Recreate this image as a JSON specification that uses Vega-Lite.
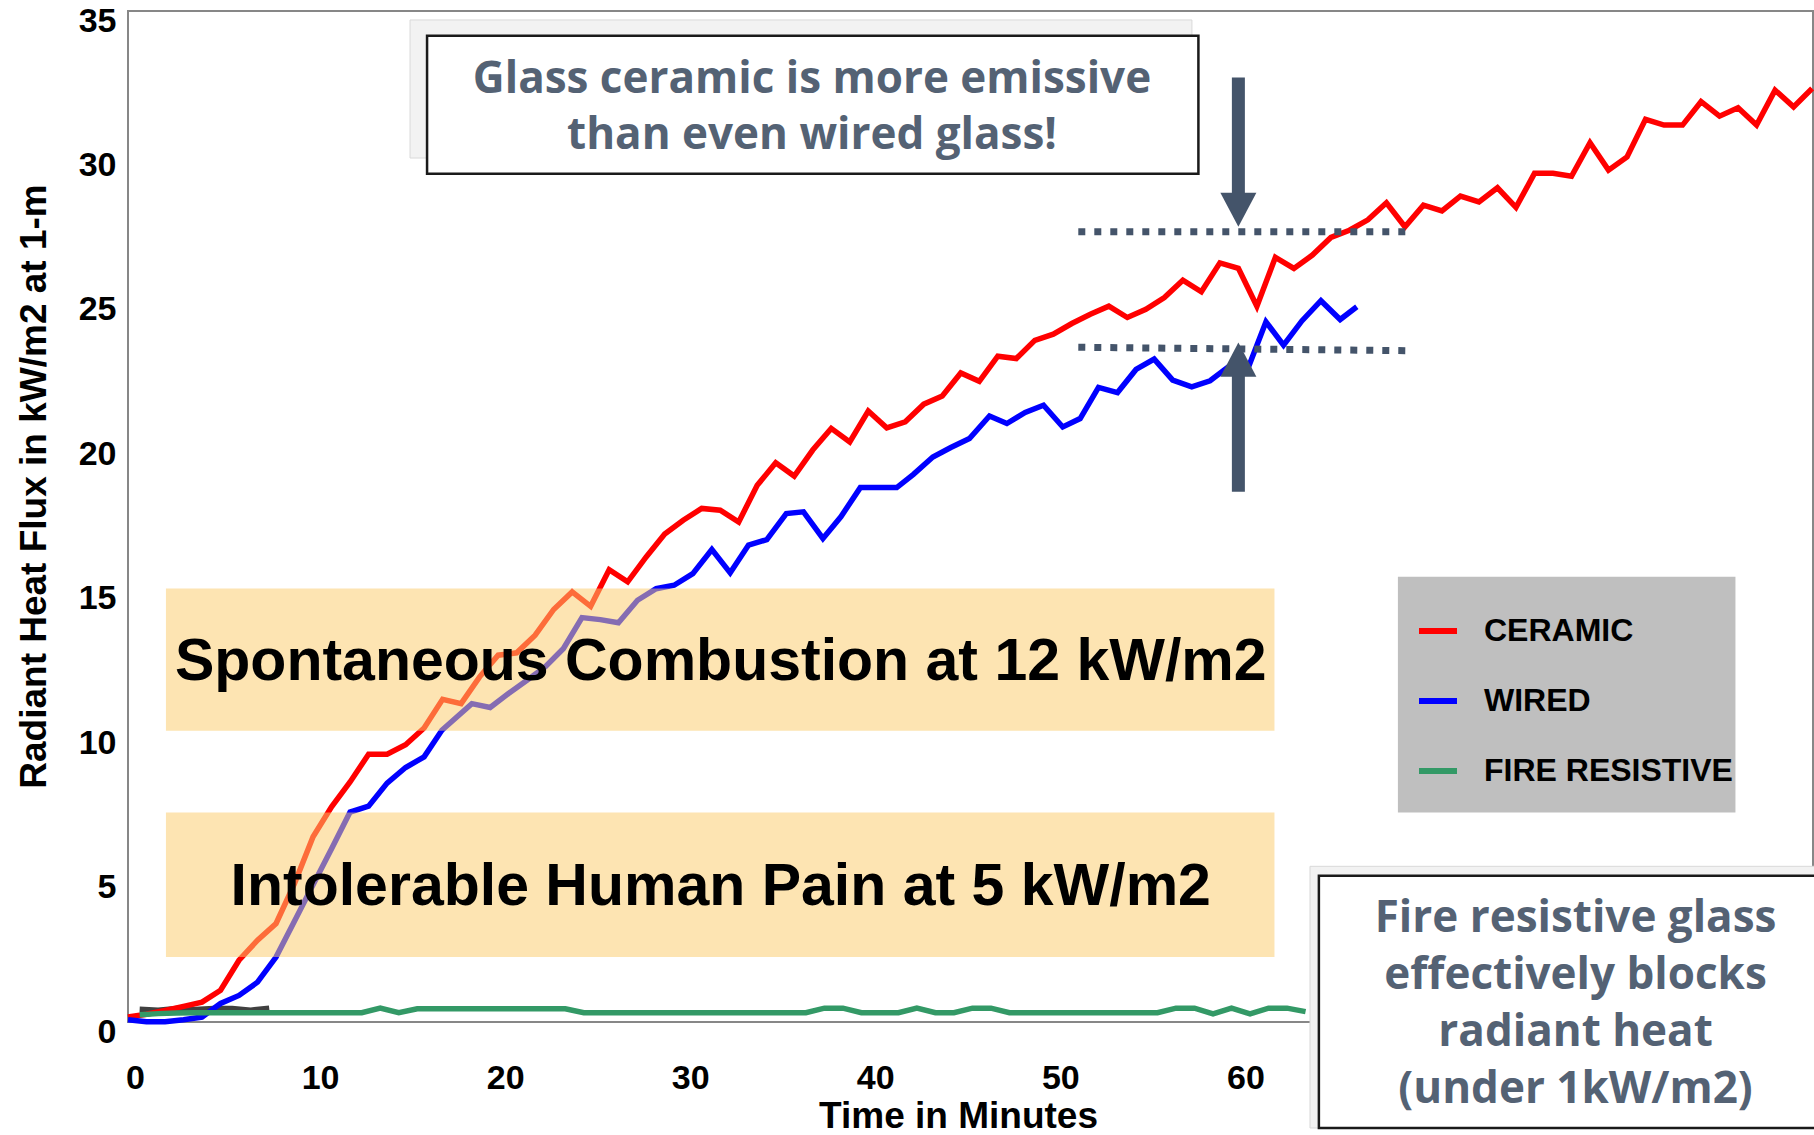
{
  "$schema": "https://vega.github.io/schema/vega-lite/v6.json",
  "width": 1685,
  "height": 1011,
  "autosize": {"type": "none"},
  "padding": {"left": 128, "top": 11, "right": 1, "bottom": 113},
  "background": "white",
  "config": {
    "view": {"stroke": "#878787", "strokeWidth": 2},
    "axis": {"grid": false, "domain": false, "ticks": false, "tickSize": 0}
  },
  "datasets": {
    "dark": [
      {"t": 0.63, "v": 0.44}, {"t": 1.63, "v": 0.41}, {"t": 2.63, "v": 0.47}, {"t": 3.63, "v": 0.43},
      {"t": 4.63, "v": 0.47}, {"t": 5.63, "v": 0.47}, {"t": 6.63, "v": 0.41}, {"t": 7.63, "v": 0.48}
    ],
    "lines": [
      {"series": "CERAMIC", "t": 0, "v": 0.17}, {"series": "CERAMIC", "t": 1, "v": 0.27}, {"series": "CERAMIC", "t": 2, "v": 0.4},
      {"series": "CERAMIC", "t": 3, "v": 0.54}, {"series": "CERAMIC", "t": 4, "v": 0.69}, {"series": "CERAMIC", "t": 5, "v": 1.1},
      {"series": "CERAMIC", "t": 6, "v": 2.14}, {"series": "CERAMIC", "t": 7, "v": 2.83}, {"series": "CERAMIC", "t": 8, "v": 3.41},
      {"series": "CERAMIC", "t": 9, "v": 4.8}, {"series": "CERAMIC", "t": 10, "v": 6.41}, {"series": "CERAMIC", "t": 11, "v": 7.45},
      {"series": "CERAMIC", "t": 12, "v": 8.31}, {"series": "CERAMIC", "t": 13, "v": 9.27}, {"series": "CERAMIC", "t": 14, "v": 9.27},
      {"series": "CERAMIC", "t": 15, "v": 9.6}, {"series": "CERAMIC", "t": 16, "v": 10.18}, {"series": "CERAMIC", "t": 17, "v": 11.17},
      {"series": "CERAMIC", "t": 18, "v": 11.02}, {"series": "CERAMIC", "t": 19, "v": 11.95}, {"series": "CERAMIC", "t": 20, "v": 12.7},
      {"series": "CERAMIC", "t": 21, "v": 12.78}, {"series": "CERAMIC", "t": 22, "v": 13.39}, {"series": "CERAMIC", "t": 23, "v": 14.28},
      {"series": "CERAMIC", "t": 24, "v": 14.89}, {"series": "CERAMIC", "t": 25, "v": 14.39}, {"series": "CERAMIC", "t": 26, "v": 15.66},
      {"series": "CERAMIC", "t": 27, "v": 15.24}, {"series": "CERAMIC", "t": 28, "v": 16.1}, {"series": "CERAMIC", "t": 29, "v": 16.89},
      {"series": "CERAMIC", "t": 30, "v": 17.37}, {"series": "CERAMIC", "t": 31, "v": 17.78}, {"series": "CERAMIC", "t": 32, "v": 17.72},
      {"series": "CERAMIC", "t": 33, "v": 17.31}, {"series": "CERAMIC", "t": 34, "v": 18.58}, {"series": "CERAMIC", "t": 35, "v": 19.36},
      {"series": "CERAMIC", "t": 36, "v": 18.9}, {"series": "CERAMIC", "t": 37, "v": 19.8}, {"series": "CERAMIC", "t": 38, "v": 20.55},
      {"series": "CERAMIC", "t": 39, "v": 20.08}, {"series": "CERAMIC", "t": 40, "v": 21.15}, {"series": "CERAMIC", "t": 41, "v": 20.57},
      {"series": "CERAMIC", "t": 42, "v": 20.78}, {"series": "CERAMIC", "t": 43, "v": 21.39}, {"series": "CERAMIC", "t": 44, "v": 21.67},
      {"series": "CERAMIC", "t": 45, "v": 22.47}, {"series": "CERAMIC", "t": 46, "v": 22.18}, {"series": "CERAMIC", "t": 47, "v": 23.05},
      {"series": "CERAMIC", "t": 48, "v": 22.97}, {"series": "CERAMIC", "t": 49, "v": 23.6}, {"series": "CERAMIC", "t": 50, "v": 23.81},
      {"series": "CERAMIC", "t": 51, "v": 24.18}, {"series": "CERAMIC", "t": 52, "v": 24.5}, {"series": "CERAMIC", "t": 53, "v": 24.78},
      {"series": "CERAMIC", "t": 54, "v": 24.39}, {"series": "CERAMIC", "t": 55, "v": 24.67}, {"series": "CERAMIC", "t": 56, "v": 25.08},
      {"series": "CERAMIC", "t": 57, "v": 25.68}, {"series": "CERAMIC", "t": 58, "v": 25.28}, {"series": "CERAMIC", "t": 59, "v": 26.28},
      {"series": "CERAMIC", "t": 60, "v": 26.09}, {"series": "CERAMIC", "t": 61, "v": 24.78}, {"series": "CERAMIC", "t": 62, "v": 26.47},
      {"series": "CERAMIC", "t": 63, "v": 26.09}, {"series": "CERAMIC", "t": 64, "v": 26.55}, {"series": "CERAMIC", "t": 65, "v": 27.16},
      {"series": "CERAMIC", "t": 66, "v": 27.41}, {"series": "CERAMIC", "t": 67, "v": 27.77}, {"series": "CERAMIC", "t": 68, "v": 28.36},
      {"series": "CERAMIC", "t": 69, "v": 27.53}, {"series": "CERAMIC", "t": 70, "v": 28.28}, {"series": "CERAMIC", "t": 71, "v": 28.08},
      {"series": "CERAMIC", "t": 72, "v": 28.59}, {"series": "CERAMIC", "t": 73, "v": 28.39}, {"series": "CERAMIC", "t": 74, "v": 28.88},
      {"series": "CERAMIC", "t": 75, "v": 28.2}, {"series": "CERAMIC", "t": 76, "v": 29.38}, {"series": "CERAMIC", "t": 77, "v": 29.38},
      {"series": "CERAMIC", "t": 78, "v": 29.28}, {"series": "CERAMIC", "t": 79, "v": 30.44}, {"series": "CERAMIC", "t": 80, "v": 29.49},
      {"series": "CERAMIC", "t": 81, "v": 29.95}, {"series": "CERAMIC", "t": 82, "v": 31.25}, {"series": "CERAMIC", "t": 83, "v": 31.05},
      {"series": "CERAMIC", "t": 84, "v": 31.05}, {"series": "CERAMIC", "t": 85, "v": 31.86}, {"series": "CERAMIC", "t": 86, "v": 31.36},
      {"series": "CERAMIC", "t": 87, "v": 31.65}, {"series": "CERAMIC", "t": 88, "v": 31.05}, {"series": "CERAMIC", "t": 89, "v": 32.26},
      {"series": "CERAMIC", "t": 90, "v": 31.68}, {"series": "CERAMIC", "t": 91, "v": 32.32},

      {"series": "WIRED", "t": 0, "v": 0.08}, {"series": "WIRED", "t": 1, "v": 0.01}, {"series": "WIRED", "t": 2, "v": 0.01},
      {"series": "WIRED", "t": 3, "v": 0.08}, {"series": "WIRED", "t": 4, "v": 0.17}, {"series": "WIRED", "t": 5, "v": 0.64},
      {"series": "WIRED", "t": 6, "v": 0.92}, {"series": "WIRED", "t": 7, "v": 1.38}, {"series": "WIRED", "t": 8, "v": 2.25},
      {"series": "WIRED", "t": 9, "v": 3.5}, {"series": "WIRED", "t": 10, "v": 4.75}, {"series": "WIRED", "t": 11, "v": 6.0},
      {"series": "WIRED", "t": 12, "v": 7.27}, {"series": "WIRED", "t": 13, "v": 7.47}, {"series": "WIRED", "t": 14, "v": 8.27},
      {"series": "WIRED", "t": 15, "v": 8.81}, {"series": "WIRED", "t": 16, "v": 9.18}, {"series": "WIRED", "t": 16.96, "v": 10.1},
      {"series": "WIRED", "t": 18.58, "v": 11.02}, {"series": "WIRED", "t": 19.57, "v": 10.89}, {"series": "WIRED", "t": 20.56, "v": 11.37},
      {"series": "WIRED", "t": 21.56, "v": 11.83}, {"series": "WIRED", "t": 22.54, "v": 12.29}, {"series": "WIRED", "t": 23.53, "v": 12.93},
      {"series": "WIRED", "t": 24.53, "v": 14.0}, {"series": "WIRED", "t": 25.52, "v": 13.93}, {"series": "WIRED", "t": 26.5, "v": 13.82},
      {"series": "WIRED", "t": 27.53, "v": 14.6}, {"series": "WIRED", "t": 28.54, "v": 15.0}, {"series": "WIRED", "t": 29.51, "v": 15.12},
      {"series": "WIRED", "t": 30.52, "v": 15.52}, {"series": "WIRED", "t": 31.55, "v": 16.36}, {"series": "WIRED", "t": 32.54, "v": 15.55},
      {"series": "WIRED", "t": 33.53, "v": 16.51}, {"series": "WIRED", "t": 34.52, "v": 16.7}, {"series": "WIRED", "t": 35.57, "v": 17.6},
      {"series": "WIRED", "t": 36.5, "v": 17.66}, {"series": "WIRED", "t": 37.55, "v": 16.74}, {"series": "WIRED", "t": 38.52, "v": 17.49},
      {"series": "WIRED", "t": 39.57, "v": 18.5}, {"series": "WIRED", "t": 40.55, "v": 18.5}, {"series": "WIRED", "t": 41.54, "v": 18.5},
      {"series": "WIRED", "t": 42.44, "v": 18.96}, {"series": "WIRED", "t": 43.49, "v": 19.56}, {"series": "WIRED", "t": 44.46, "v": 19.89},
      {"series": "WIRED", "t": 45.47, "v": 20.2}, {"series": "WIRED", "t": 46.55, "v": 20.98}, {"series": "WIRED", "t": 47.49, "v": 20.72},
      {"series": "WIRED", "t": 48.48, "v": 21.1}, {"series": "WIRED", "t": 49.47, "v": 21.35}, {"series": "WIRED", "t": 50.51, "v": 20.6},
      {"series": "WIRED", "t": 51.45, "v": 20.89}, {"series": "WIRED", "t": 52.44, "v": 21.97}, {"series": "WIRED", "t": 53.47, "v": 21.79},
      {"series": "WIRED", "t": 54.47, "v": 22.59}, {"series": "WIRED", "t": 55.45, "v": 22.95}, {"series": "WIRED", "t": 56.45, "v": 22.22},
      {"series": "WIRED", "t": 57.48, "v": 21.99}, {"series": "WIRED", "t": 58.47, "v": 22.2}, {"series": "WIRED", "t": 59.46, "v": 22.68},
      {"series": "WIRED", "t": 60.5, "v": 22.6}, {"series": "WIRED", "t": 61.49, "v": 24.24}, {"series": "WIRED", "t": 62.44, "v": 23.43},
      {"series": "WIRED", "t": 63.43, "v": 24.27}, {"series": "WIRED", "t": 64.46, "v": 24.97}, {"series": "WIRED", "t": 65.5, "v": 24.32},
      {"series": "WIRED", "t": 66.4, "v": 24.76},

      {"series": "FIRE RESISTIVE", "t": 0.63, "v": 0.25}, {"series": "FIRE RESISTIVE", "t": 1.63, "v": 0.29}, {"series": "FIRE RESISTIVE", "t": 2.63, "v": 0.31},
      {"series": "FIRE RESISTIVE", "t": 3.63, "v": 0.32}, {"series": "FIRE RESISTIVE", "t": 4.63, "v": 0.32}, {"series": "FIRE RESISTIVE", "t": 5.63, "v": 0.32},
      {"series": "FIRE RESISTIVE", "t": 6.63, "v": 0.32}, {"series": "FIRE RESISTIVE", "t": 7.63, "v": 0.32}, {"series": "FIRE RESISTIVE", "t": 8.63, "v": 0.32},
      {"series": "FIRE RESISTIVE", "t": 9.63, "v": 0.32}, {"series": "FIRE RESISTIVE", "t": 10.63, "v": 0.32}, {"series": "FIRE RESISTIVE", "t": 11.63, "v": 0.32},
      {"series": "FIRE RESISTIVE", "t": 12.63, "v": 0.32}, {"series": "FIRE RESISTIVE", "t": 13.63, "v": 0.48}, {"series": "FIRE RESISTIVE", "t": 14.63, "v": 0.32},
      {"series": "FIRE RESISTIVE", "t": 15.63, "v": 0.46}, {"series": "FIRE RESISTIVE", "t": 16.63, "v": 0.46}, {"series": "FIRE RESISTIVE", "t": 17.63, "v": 0.46},
      {"series": "FIRE RESISTIVE", "t": 18.63, "v": 0.46}, {"series": "FIRE RESISTIVE", "t": 19.63, "v": 0.46}, {"series": "FIRE RESISTIVE", "t": 20.63, "v": 0.46},
      {"series": "FIRE RESISTIVE", "t": 21.63, "v": 0.46}, {"series": "FIRE RESISTIVE", "t": 22.63, "v": 0.46}, {"series": "FIRE RESISTIVE", "t": 23.63, "v": 0.46},
      {"series": "FIRE RESISTIVE", "t": 24.63, "v": 0.32}, {"series": "FIRE RESISTIVE", "t": 25.63, "v": 0.32}, {"series": "FIRE RESISTIVE", "t": 26.63, "v": 0.32},
      {"series": "FIRE RESISTIVE", "t": 27.63, "v": 0.32}, {"series": "FIRE RESISTIVE", "t": 28.63, "v": 0.32}, {"series": "FIRE RESISTIVE", "t": 29.63, "v": 0.32},
      {"series": "FIRE RESISTIVE", "t": 30.63, "v": 0.32}, {"series": "FIRE RESISTIVE", "t": 31.63, "v": 0.32}, {"series": "FIRE RESISTIVE", "t": 32.63, "v": 0.32},
      {"series": "FIRE RESISTIVE", "t": 33.63, "v": 0.32}, {"series": "FIRE RESISTIVE", "t": 34.63, "v": 0.32}, {"series": "FIRE RESISTIVE", "t": 35.63, "v": 0.32},
      {"series": "FIRE RESISTIVE", "t": 36.63, "v": 0.32}, {"series": "FIRE RESISTIVE", "t": 37.63, "v": 0.48}, {"series": "FIRE RESISTIVE", "t": 38.63, "v": 0.48},
      {"series": "FIRE RESISTIVE", "t": 39.63, "v": 0.32}, {"series": "FIRE RESISTIVE", "t": 40.63, "v": 0.32}, {"series": "FIRE RESISTIVE", "t": 41.63, "v": 0.32},
      {"series": "FIRE RESISTIVE", "t": 42.63, "v": 0.48}, {"series": "FIRE RESISTIVE", "t": 43.63, "v": 0.32}, {"series": "FIRE RESISTIVE", "t": 44.63, "v": 0.32},
      {"series": "FIRE RESISTIVE", "t": 45.63, "v": 0.48}, {"series": "FIRE RESISTIVE", "t": 46.63, "v": 0.48}, {"series": "FIRE RESISTIVE", "t": 47.63, "v": 0.32},
      {"series": "FIRE RESISTIVE", "t": 48.63, "v": 0.32}, {"series": "FIRE RESISTIVE", "t": 49.63, "v": 0.32}, {"series": "FIRE RESISTIVE", "t": 50.63, "v": 0.32},
      {"series": "FIRE RESISTIVE", "t": 51.63, "v": 0.32}, {"series": "FIRE RESISTIVE", "t": 52.63, "v": 0.32}, {"series": "FIRE RESISTIVE", "t": 53.63, "v": 0.32},
      {"series": "FIRE RESISTIVE", "t": 54.63, "v": 0.32}, {"series": "FIRE RESISTIVE", "t": 55.63, "v": 0.32}, {"series": "FIRE RESISTIVE", "t": 56.63, "v": 0.48},
      {"series": "FIRE RESISTIVE", "t": 57.63, "v": 0.48}, {"series": "FIRE RESISTIVE", "t": 58.63, "v": 0.28}, {"series": "FIRE RESISTIVE", "t": 59.63, "v": 0.48},
      {"series": "FIRE RESISTIVE", "t": 60.63, "v": 0.28}, {"series": "FIRE RESISTIVE", "t": 61.63, "v": 0.48}, {"series": "FIRE RESISTIVE", "t": 62.63, "v": 0.48},
      {"series": "FIRE RESISTIVE", "t": 63.63, "v": 0.36}
    ],
    "bands": [
      {"t": 2.05, "v": 15.01, "t2": 61.95, "v2": 10.08},
      {"t": 2.05, "v": 7.25, "t2": 61.95, "v2": 2.25}
    ],
    "bandText": [
      {"t": 32.03, "v": 11.84, "label": "Spontaneous Combustion at 12 kW/m2"},
      {"t": 32.03, "v": 4.05, "label": "Intolerable Human Pain at 5 kW/m2"}
    ],
    "legendBox": [{"t": 68.62, "v": 15.41, "t2": 86.86, "v2": 7.25}],
    "dotted": [
      {"t": 51.35, "v": 27.36, "t2": 69.1, "v2": 27.36},
      {"t": 51.35, "v": 23.36, "t2": 69.1, "v2": 23.24}
    ],
    "shafts": [
      {"t": 60, "v": 32.7, "v2": 28.4},
      {"t": 60, "v": 18.36, "v2": 22.6}
    ],
    "heads": [
      {"t": 60, "v": 27.53, "dir": "down"},
      {"t": 60, "v": 23.52, "dir": "up"}
    ],
    "topShadow": [{"t": 15.24, "v": 34.69, "t2": 57.49, "v2": 29.91}],
    "topBox": [{"t": 16.16, "v": 34.14, "t2": 57.84, "v2": 29.37}],
    "topText": [
      {"t": 36.96, "v": 32.15, "label": "Glass ceramic is more emissive"},
      {"t": 36.96, "v": 30.22, "label": "than even wired glass!"}
    ],
    "fireShadow": [{"t": 63.87, "v": 5.39, "t2": 95, "v2": -3.67}],
    "fireBox": [{"t": 64.35, "v": 5.06, "t2": 95, "v2": -3.67}],
    "fireText": [
      {"t": 78.22, "v": 3.12, "label": "Fire resistive glass"},
      {"t": 78.22, "v": 1.14, "label": "effectively blocks"},
      {"t": 78.22, "v": -0.83, "label": "radiant heat"},
      {"t": 78.22, "v": -2.8, "label": "(under 1kW/m2)"}
    ]
  },
  "encoding": {
    "x": {
      "field": "t",
      "type": "quantitative",
      "scale": {"domain": [0, 91.05], "nice": false, "zero": false},
      "axis": {
        "values": [0, 10, 20, 30, 40, 50, 60],
        "format": "d",
        "labelFont": "Liberation Sans, Arial, sans-serif",
        "labelFontSize": 34,
        "labelFontWeight": "bold",
        "labelColor": "#000000",
        "labelPadding": 66,
        "labelBaseline": "alphabetic",
        "labelOffset": 7,
        "labelFlush": false,
        "labelOverlap": false,
        "title": "Time in Minutes",
        "titleFont": "Liberation Sans, Arial, sans-serif",
        "titleFontSize": 37,
        "titleFontWeight": "bold",
        "titleColor": "#000000",
        "titleX": 830,
        "titleY": 105,
        "titleBaseline": "alphabetic",
        "titleAlign": "center"
      }
    },
    "y": {
      "field": "v",
      "type": "quantitative",
      "scale": {"domain": [0, 35], "nice": false, "zero": false},
      "axis": {
        "values": [0, 5, 10, 15, 20, 25, 30, 35],
        "labelFont": "Liberation Sans, Arial, sans-serif",
        "labelFontSize": 34,
        "labelFontWeight": "bold",
        "labelColor": "#000000",
        "labelPadding": 12,
        "labelOffset": 10,
        "labelBaseline": "middle",
        "labelFlush": false,
        "labelOverlap": false,
        "title": "Radiant Heat Flux in kW/m2 at 1-m",
        "titleFont": "Liberation Sans, Arial, sans-serif",
        "titleFontSize": 37,
        "titleFontWeight": "bold",
        "titleColor": "#000000",
        "titleAngle": 270,
        "titleX": -83,
        "titleY": 475,
        "titleBaseline": "alphabetic",
        "titleAlign": "center"
      }
    }
  },
  "layer": [
    {
      "data": {"name": "dark"},
      "mark": {"type": "line", "stroke": "#404040", "strokeWidth": 5.5},
      "encoding": {}
    },
    {
      "data": {"name": "lines"},
      "mark": {"type": "line", "strokeWidth": 5.5},
      "encoding": {
        "color": {
          "field": "series",
          "type": "nominal",
          "scale": {"domain": ["CERAMIC", "WIRED", "FIRE RESISTIVE"], "range": ["#FF0000", "#0000FF", "#339966"]},
          "legend": {
            "orient": "none",
            "legendX": 1288,
            "legendY": 598,
            "title": null,
            "padding": 0,
            "symbolType": "stroke",
            "symbolSize": 1444,
            "symbolStrokeWidth": 6,
            "labelFont": "Liberation Sans, Arial, sans-serif",
            "labelFontSize": 32,
            "labelFontWeight": "bold",
            "labelColor": "#000000",
            "labelOffset": 24,
            "labelLimit": 400,
            "rowPadding": 32
          }
        }
      }
    },
    {
      "data": {"name": "bands"},
      "mark": {"type": "rect", "fill": "#FBCC6D", "opacity": 0.53},
      "encoding": {"x2": {"field": "t2"}, "y2": {"field": "v2"}}
    },
    {
      "data": {"name": "bandText"},
      "mark": {"type": "text", "font": "Liberation Sans, Arial, sans-serif", "fontSize": 59, "fontWeight": "bold", "fill": "#000000", "align": "center", "baseline": "alphabetic"},
      "encoding": {"text": {"field": "label"}}
    },
    {
      "data": {"name": "legendBox"},
      "mark": {"type": "rect", "fill": "#BFBFBF"},
      "encoding": {"x2": {"field": "t2"}, "y2": {"field": "v2"}}
    },
    {
      "data": {"name": "dotted"},
      "mark": {"type": "rule", "stroke": "#44546A", "strokeWidth": 7, "strokeDash": [7, 9], "strokeCap": "butt"},
      "encoding": {"x2": {"field": "t2"}, "y2": {"field": "v2"}}
    },
    {
      "data": {"name": "shafts"},
      "mark": {"type": "rule", "stroke": "#44546A", "strokeWidth": 13, "strokeCap": "butt"},
      "encoding": {"y2": {"field": "v2"}}
    },
    {
      "data": {"name": "heads"},
      "mark": {"type": "point", "filled": true, "fill": "#44546A", "opacity": 1, "size": 1296, "strokeWidth": 0},
      "encoding": {
        "shape": {
          "field": "dir",
          "type": "nominal",
          "scale": {"domain": ["down", "up"], "range": ["M-1,-1.89L1,-1.89L0,0Z", "M-1,1.89L1,1.89L0,0Z"]},
          "legend": null
        }
      }
    },
    {
      "data": {"name": "topShadow"},
      "mark": {"type": "rect", "fill": "#F2F2F2", "stroke": "#D9D9D9", "strokeWidth": 1},
      "encoding": {"x2": {"field": "t2"}, "y2": {"field": "v2"}}
    },
    {
      "data": {"name": "topBox"},
      "mark": {"type": "rect", "fill": "#FFFFFF", "stroke": "#1A1A1A", "strokeWidth": 2.5},
      "encoding": {"x2": {"field": "t2"}, "y2": {"field": "v2"}}
    },
    {
      "data": {"name": "topText"},
      "mark": {"type": "text", "font": "Open Sans, Noto Sans, sans-serif", "fontSize": 44, "fontWeight": "bold", "fill": "#546274", "align": "center", "baseline": "alphabetic"},
      "encoding": {"text": {"field": "label"}}
    },
    {
      "data": {"name": "fireShadow"},
      "mark": {"type": "rect", "fill": "#F2F2F2", "stroke": "#D9D9D9", "strokeWidth": 1},
      "encoding": {"x2": {"field": "t2"}, "y2": {"field": "v2"}}
    },
    {
      "data": {"name": "fireBox"},
      "mark": {"type": "rect", "fill": "#FFFFFF", "stroke": "#1A1A1A", "strokeWidth": 2.5},
      "encoding": {"x2": {"field": "t2"}, "y2": {"field": "v2"}}
    },
    {
      "data": {"name": "fireText"},
      "mark": {"type": "text", "font": "Open Sans, Noto Sans, sans-serif", "fontSize": 44, "fontWeight": "bold", "fill": "#546274", "align": "center", "baseline": "alphabetic"},
      "encoding": {"text": {"field": "label"}}
    }
  ]
}
